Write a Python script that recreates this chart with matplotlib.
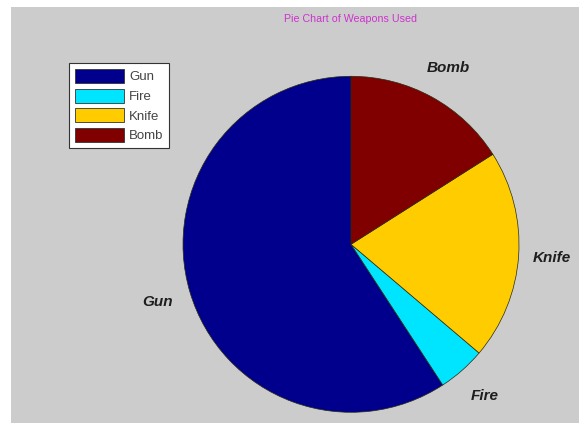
import matplotlib
matplotlib.use('Agg')
from matplotlib import pyplot as plt
from matplotlib.patches import Rectangle, Patch

plt.rcParams['font.family'] = ['Liberation Sans', 'DejaVu Sans']

weapons = ['Gun', 'Fire', 'Knife', 'Bomb']
shares = [59.2, 4.6, 20.2, 16.0]
colors = ['#00008c', '#00e5ff', '#ffcc00', '#800000']

W, H = 579, 423
fig = plt.figure(figsize=(W / 100, H / 100), dpi=100)
fig.patch.set_facecolor('white')

# grey plotting area behind everything
fig.patches.append(Rectangle((11 / W, 0), 1 - 11 / W, 1 - 7 / H,
                             transform=fig.transFigure, facecolor='#cccccc',
                             edgecolor='none', zorder=-10))

cx, cy, r = 351, 423 - 244.3, 168
ax = fig.add_axes([(cx - r) / W, (cy - r) / H, 2 * r / W, 2 * r / H])
ax.set_facecolor('none')
wedges, texts = ax.pie(shares, labels=weapons, colors=colors, startangle=90,
                       counterclock=True, labeldistance=1.2,
                       wedgeprops=dict(edgecolor='#2a2a10', linewidth=0.5),
                       textprops=dict(fontsize=11, fontweight='bold',
                                      fontstyle='italic', color='#1e1e1e'))
for t in texts:
    t.set_ha('center')
ax.set_xlim(-1, 1)
ax.set_ylim(-1, 1)
ax.axis('off')

fig.text(cx / W, 1 - 19 / H, 'Pie Chart of Weapons Used', color='#cc33cc',
         fontsize=7.7, ha='center', va='center')

handles = [Patch(facecolor=c, edgecolor='#333333', linewidth=0.6) for c in colors]
leg = fig.legend(handles, weapons, loc='upper left',
                 bbox_to_anchor=(69 / W, 1 - 63 / H), fontsize=9.5,
                 handlelength=3.7, handleheight=1.25, handletextpad=0.4,
                 labelspacing=0.4, borderpad=0.45, borderaxespad=0,
                 fancybox=False, frameon=True)
leg.get_frame().set_edgecolor('#333333')
leg.get_frame().set_linewidth(0.8)
leg.get_frame().set_facecolor('white')
leg.get_frame().set_alpha(1)
for t in leg.get_texts():
    t.set_color('#444444')

fig.savefig('out.png', dpi=100)
